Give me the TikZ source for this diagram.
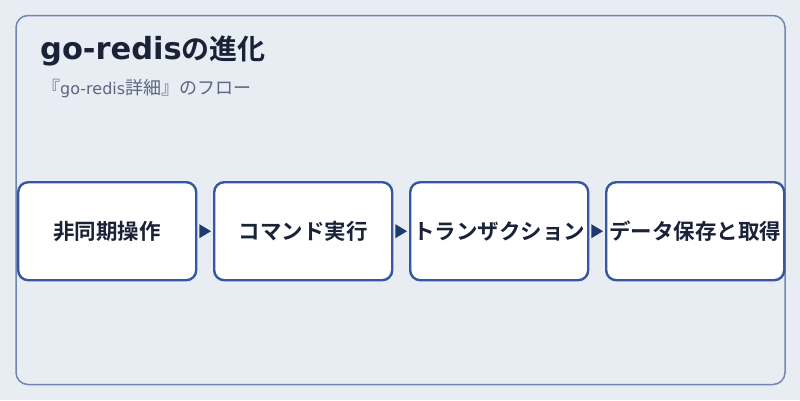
\documentclass[tikz,border=0pt]{standalone}
\usepackage{fontspec}
\setmainfont{Noto Sans CJK JP}
\newfontfamily\jpbold{Noto Sans CJK JP Bold}
\newfontfamily\latinfont{DejaVu Sans}
\newfontfamily\latinbold{DejaVu Sans Bold}
\definecolor{bgc}{HTML}{E8EDF3}
\definecolor{framec}{HTML}{6F86B2}
\definecolor{boxc}{HTML}{3457A0}
\definecolor{arrc}{HTML}{1F3A70}
\definecolor{textc}{HTML}{1A2238}
\definecolor{subc}{HTML}{5B6680}
\begin{document}
\begin{tikzpicture}[x=1pt,y=-1pt,
  stepbox/.style={draw=boxc,line width=2.4pt,fill=white,rounded corners=10pt,
    minimum width=178pt,minimum height=98pt,inner sep=0pt,anchor=north west,
    font=\jpbold\fontsize{21.5}{24}\selectfont,text=textc},
  flowarrow/.style={fill=arrc,draw=none}]
\fill[bgc] (0,0) rectangle (800,400);
\useasboundingbox (0,0) rectangle (800,400);
\draw[framec,line width=1.5pt,rounded corners=12pt] (16,15.5) rectangle (785,384.5);
\node[anchor=base west,inner sep=0pt,text=textc] (title) at (40,59)
  {{\latinbold\fontsize{30.5}{34}\selectfont go-redis}{\jpbold\fontsize{28}{32}\selectfont の進化}};
\node[anchor=base west,inner sep=0pt,text=subc] (sub) at (42,94)
  {{\fontsize{18}{20}\selectfont 『}{\latinfont\fontsize{16}{20}\selectfont go-redis}{\fontsize{18}{20}\selectfont 詳細』のフロー}};
\node[stepbox] (b1) at (17,181) {非同期操作};
\node[stepbox] (b2) at (213,181) {コマンド実行};
\node[stepbox] (b3) at (409,181) {トランザクション};
\node[stepbox] (b4) at (605,181) {データ保存と取得};
\foreach \a/\b in {b1/b2,b2/b3,b3/b4}{
  \fill[flowarrow] ([xshift=2pt,yshift=7pt]\a.east) -- ([xshift=2pt,yshift=-7pt]\a.east) -- ([xshift=-2pt]\b.west) -- cycle;
}
\end{tikzpicture}
\end{document}
